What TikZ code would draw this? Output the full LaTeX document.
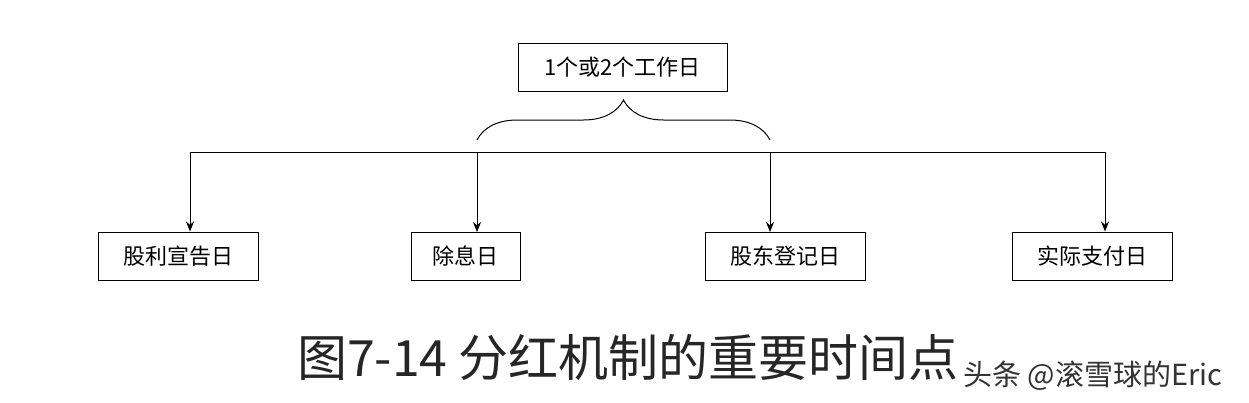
\documentclass[tikz,border=0pt]{standalone}
\usepackage{fontspec}
\setmainfont{Liberation Serif}
\newfontfamily\cjk{Noto Sans CJK SC}
\usetikzlibrary{decorations.pathreplacing,arrows.meta}
\tikzset{box/.style={draw,line width=1pt,minimum height=48pt,inner xsep=8pt,font=\cjk\fontsize{22}{24}\selectfont},
arr/.style={line width=1pt,-{Stealth[length=10pt,width=8pt]}}}
\begin{document}
\begin{tikzpicture}[x=1pt,y=-1pt]
\useasboundingbox (0,0) rectangle (1249,402);
\node[box,minimum width=209pt] (top) at (622.5,67) {1个或2个工作日};
\node[box,minimum width=160pt] (a) at (178,256) {股利宣告日};
\node[box,minimum width=109pt] (b) at (465.5,256) {除息日};
\node[box,minimum width=160pt] (c) at (785,256) {股东登记日};
\node[box,minimum width=160pt] (d) at (1092,256) {实际支付日};
\coordinate (l) at (190,152);
\coordinate (r) at (1105,152);
\draw[line width=1pt] (l) -- (r);
\draw[arr] (l) -- (l |- a.north);
\draw[arr] (477,152) -- (477,232);
\draw[arr] (770,152) -- (770,232);
\draw[arr] (r) -- (r |- d.north);
\draw[line width=1pt,decorate,decoration={brace,amplitude=40pt,aspect=0.5}] (477,140) -- (770,140);
\node[font=\cjk\fontsize{50}{54}\selectfont,text=black!85] (cap) at (628,357) {图7-14 分红机制的重要时间点};
\node[font=\cjk\fontsize{29}{31}\selectfont,text=black!80] (wm) at (1093,376) {头条 @滚雪球的Eric};
\end{tikzpicture}
\end{document}
